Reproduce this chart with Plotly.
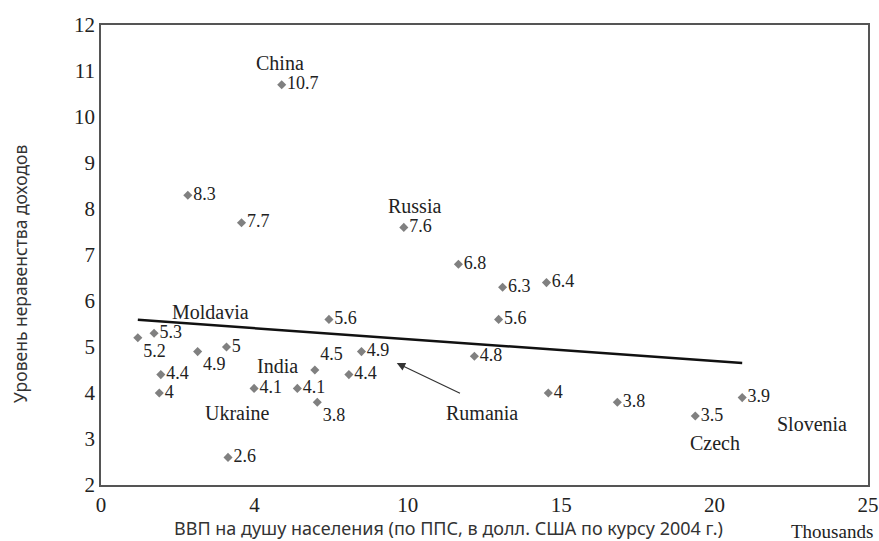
import plotly.graph_objects as go

# GDP per capita (thousands USD, PPP 2004) and income inequality level
gdp = [5.89, 2.83, 4.58, 9.87, 11.65, 1.2, 1.73, 1.95, 1.9, 3.15, 4.09, 4.14,
       4.99, 6.4, 6.97, 7.05, 7.43, 8.08, 8.49, 13.09, 14.52, 12.96, 12.17,
       14.58, 16.83, 19.37, 20.9]
inequality = [10.7, 8.3, 7.7, 7.6, 6.8, 5.2, 5.3, 4.4, 4.0, 4.9, 5.0, 2.6,
              4.1, 4.1, 4.5, 3.8, 5.6, 4.4, 4.9, 6.3, 6.4, 5.6, 4.8,
              4.0, 3.8, 3.5, 3.9]
value_labels = ["10.7", "8.3", "7.7", "7.6", "6.8", "5.2", "5.3", "4.4", "4", "4.9", "5", "2.6",
                "4.1", "4.1", "4.5", "3.8", "5.6", "4.4", "4.9", "6.3", "6.4", "5.6", "4.8",
                "4", "3.8", "3.5", "3.9"]
label_pos = ["middle right"] * len(gdp)
label_pos[5] = "bottom right"
label_pos[9] = "bottom right"
label_pos[14] = "top right"
label_pos[15] = "bottom right"

# Linear trend line endpoints
trend_x = [1.2, 20.9]
trend_y = [5.59, 4.65]

# Country labels
countries = ["China", "Russia", "Moldavia", "India", "Ukraine", "Rumania", "Czech", "Slovenia"]
country_x = [5.83, 10.22, 3.58, 5.76, 4.46, 12.43, 20.02, 23.18]
country_y = [11.17, 8.06, 5.76, 4.59, 3.57, 3.57, 2.91, 3.33]

x_tickvals = [0, 5, 10, 15, 20, 25]
x_ticktext = ["0", "4", "10", "15", "20", "25"]
y_tickvals = [2, 3, 4, 5, 6, 7, 8, 9, 10, 11, 12]

serif = "Liberation Serif, Times New Roman, serif"
sans = "Noto Sans, DejaVu Sans, sans-serif"

# plot area at x 101..868, y 25..485 in the 879x541 window
L, R, T, B = 101, 11, 25, 56
W, H = 879, 541
PW, PH = W - L - R, H - T - B

fig = go.Figure()
fig.add_trace(go.Scatter(
    x=trend_x, y=trend_y, mode="lines",
    line=dict(color="#111111", width=2.5), hoverinfo="skip", showlegend=False))
fig.add_trace(go.Scatter(
    x=gdp, y=inequality, mode="markers+text",
    marker=dict(symbol="diamond", size=7, color="#808080"),
    text=value_labels, textposition=label_pos,
    textfont=dict(family=serif, size=18, color="#222222"),
    showlegend=False))

for name, cx, cy in zip(countries, country_x, country_y):
    fig.add_annotation(x=cx, y=cy, text=name, showarrow=False,
                       xanchor="center", yanchor="middle",
                       font=dict(family=serif, size=20, color="#222222"))

# Arrow pointing to Rumania
fig.add_annotation(x=9.64, y=4.65, ax=11.75, ay=3.98, axref="x", ayref="y",
                   text="", showarrow=True, arrowhead=2, arrowsize=1.4,
                   arrowwidth=1.2, arrowcolor="#333333")

fig.add_annotation(x=(832 - 101) / PW, y=-(531 - 485) / PH, xref="paper", yref="paper",
                   xanchor="center", yanchor="middle",
                   text="Thousands", showarrow=False,
                   font=dict(family=serif, size=19, color="#222222"))
fig.add_annotation(x=(448 - 101) / PW, y=-(528 - 485) / PH, xref="paper", yref="paper",
                   xanchor="center", yanchor="middle",
                   text="ВВП на душу населения (по ППС, в долл. США по курсу 2004 г.)",
                   showarrow=False, font=dict(family=sans, size=18, color="#333333"))
fig.add_annotation(x=(20 - 101) / PW, y=(485 - 274) / PH, xref="paper", yref="paper",
                   xanchor="center", yanchor="middle",
                   text="Уровень неравенства доходов", textangle=-90,
                   showarrow=False, font=dict(family=sans, size=17.5, color="#333333"))

fig.update_layout(
    width=W, height=H,
    margin=dict(l=L, r=R, t=T, b=B, autoexpand=False),
    paper_bgcolor="white", plot_bgcolor="white",
    showlegend=False,
)
fig.update_xaxes(range=[0, 25], tickvals=x_tickvals, ticktext=x_ticktext,
                 automargin=False,
                 showgrid=False, zeroline=False, showline=True, linecolor="#555555",
                 linewidth=1.5, mirror=True, ticks="",
                 tickfont=dict(family=serif, size=21, color="#222222"))
fig.update_yaxes(range=[2, 12], tickvals=y_tickvals,
                 automargin=False,
                 showgrid=False, zeroline=False, showline=True, linecolor="#555555",
                 linewidth=1.5, mirror=True, ticks="",
                 tickfont=dict(family=serif, size=21, color="#222222"))

fig.write_html("out.html", config={"displayModeBar": False},
               post_script="document.body.style.margin='0';document.body.style.overflow='hidden';")
